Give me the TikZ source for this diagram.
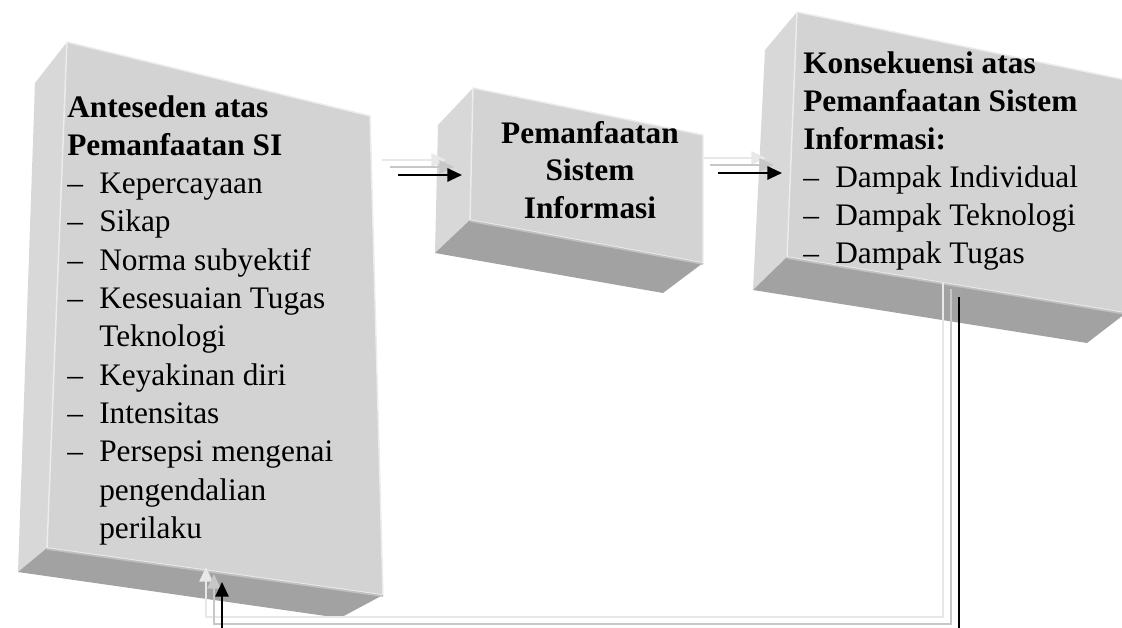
\documentclass[tikz,border=0pt]{standalone}
\usepackage{fontspec}
\setmainfont{Liberation Serif}
\usetikzlibrary{arrows.meta}

\definecolor{facefront}{RGB}{211,211,211}
\definecolor{faceside}{RGB}{216,216,216}
\definecolor{facebottom}{RGB}{162,162,162}
\definecolor{edgehi}{RGB}{236,236,236}
\definecolor{edgelow}{RGB}{192,192,192}

% en dash followed by a fixed indent for list entries
\newcommand\itemdash{\makebox[24pt][l]{–}}

\begin{document}
\begin{tikzpicture}[x=0.75pt,y=-0.75pt,
  front/.style={fill=facefront, draw=edgehi, line width=1.1pt, line join=round},
  sideface/.style={fill=faceside},
  bottomface/.style={fill=facebottom},
  crease/.style={draw=edgelow, line width=1.3pt},
  hd/.style={font=\fontsize{23.5}{28}\selectfont\bfseries, anchor=base west, inner sep=0pt},
  txt/.style={font=\fontsize{23.5}{28}\selectfont, anchor=base west, inner sep=0pt},
  ctr/.style={font=\fontsize{23.5}{28}\selectfont\bfseries, anchor=base, inner sep=0pt},
  tip/.style={-{Triangle[length=11pt,width=10pt]}},
  link/.style={tip, draw=black, line width=1.5pt},
  ghostnear/.style={tip, draw=black!22, line width=1.4pt},
  ghostfar/.style={tip, draw=black!9, line width=1.4pt}
]
\useasboundingbox (0,0) rectangle (1122,628);
\clip (0,0) rectangle (1122,628);

% ---- block 1: antecedents ----
\fill[sideface] (35,83) -- (67,42) -- (47,548) -- (18,572) -- cycle;
\fill[bottomface] (47,548) -- (383,595) -- (340,618) -- (18,572) -- cycle;
\draw[front] (67,42) -- (370,116) -- (383,595) -- (47,548) -- cycle;
\draw[crease] (47,549) -- (383,596);

% ---- block 2: system use ----
\fill[sideface] (438,125) -- (473,88) -- (470,220) -- (435,253) -- cycle;
\fill[bottomface] (470,220) -- (703,263) -- (663,293) -- (435,253) -- cycle;
\draw[front] (473,88) -- (703,135) -- (703,263) -- (470,220) -- cycle;
\draw[crease] (470,221) -- (703,264);

% ---- block 3: consequences ----
\fill[sideface] (765,50) -- (797,12) -- (787,257) -- (753,290) -- cycle;
\fill[bottomface] (787,257) -- (1126,313) -- (1087,343) -- (753,290) -- cycle;
\draw[front] (797,12) -- (1126,80) -- (1126,313) -- (787,257) -- cycle;
\draw[crease] (787,258) -- (1126,314);

% ---- texts ----
\node[hd]  (a1)  at (67,117)   {Anteseden atas};
\node[hd]  (a2)  at (67,155.3) {Pemanfaatan SI};
\node[txt] (a3)  at (67,193.6) {\itemdash Kepercayaan};
\node[txt] (a4)  at (67,231.9) {\itemdash Sikap};
\node[txt] (a5)  at (67,270.2) {\itemdash Norma subyektif};
\node[txt] (a6)  at (67,308.5) {\itemdash Kesesuaian Tugas};
\node[txt] (a7)  at (99,346.8) {Teknologi};
\node[txt] (a8)  at (67,385.1) {\itemdash Keyakinan diri};
\node[txt] (a9)  at (67,423.4) {\itemdash Intensitas};
\node[txt] (a10) at (67,461.7) {\itemdash Persepsi mengenai};
\node[txt] (a11) at (99,500)   {pengendalian};
\node[txt] (a12) at (99,538.3) {perilaku};

\node[ctr] (b1) at (590,143) {Pemanfaatan};
\node[ctr] (b2) at (590,180.5) {Sistem};
\node[ctr] (b3) at (590,218) {Informasi};

\node[hd]  (c1) at (803,73)  {Konsekuensi atas};
\node[hd]  (c2) at (803,111) {Pemanfaatan Sistem};
\node[hd]  (c3) at (803,149) {Informasi:};
\node[txt] (c4) at (803,187) {\itemdash Dampak Individual};
\node[txt] (c5) at (803,225) {\itemdash Dampak Teknologi};
\node[txt] (c6) at (803,263) {\itemdash Dampak Tugas};

% ---- connector end points ----
\coordinate (out1) at (398,175);
\coordinate (in2)  at (462,175);
\coordinate (out2) at (718,173);
\coordinate (in3)  at (782,173);
\coordinate (out3) at (959,297);
\coordinate (fbR)  at (959,632);
\coordinate (fbL)  at (222,632);
\coordinate (in1)  at (222,582);

% soft shadow copies of the connectors
\foreach \dx/\dy/\sty in {-16/-15/ghostfar, -8/-8/ghostnear}{
  \draw[\sty] ([shift={(\dx,\dy)}]out1) -- ([shift={(\dx,\dy)}]in2);
  \draw[\sty] ([shift={(\dx,\dy)}]out2) -- ([shift={(\dx,\dy)}]in3);
  \draw[\sty] ([shift={(\dx,\dy)}]out3) -- ([shift={(\dx,\dy)}]fbR)
              -- ([shift={(\dx,\dy)}]fbL) -- ([shift={(\dx,\dy)}]in1);
}

% connectors
\draw[link] (out1) -- (in2);
\draw[link] (out2) -- (in3);
\draw[link] (out3) -- (fbR) -- (fbL) -- (in1);
\end{tikzpicture}
\end{document}
